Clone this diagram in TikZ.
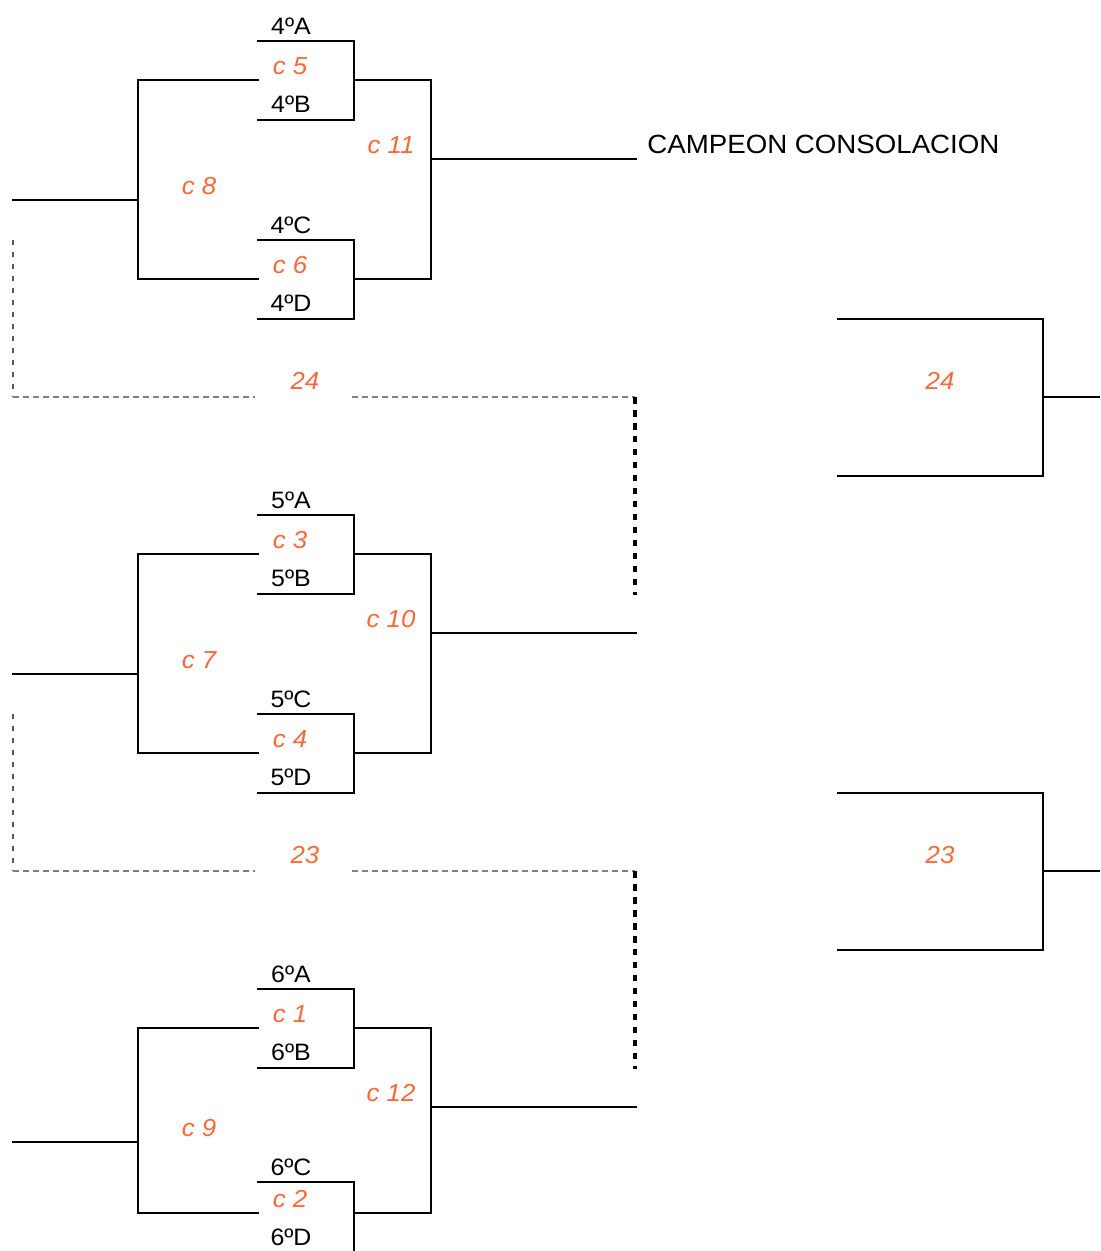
\documentclass[tikz,border=0pt]{standalone}
\usepackage{fontspec}
\setmainfont[FakeStretch=1.05]{Liberation Sans}
\definecolor{matchorange}{RGB}{255,102,51}

% one block of the consolation draw: #1 name, #2 y of first pair, #3 y of second pair,
% #4 place, #5 #6 first round matches, #7 #8 second round matches, #9 arm gap of second pair
\newcommand{\drawblock}[9]{%
  \coordinate (#1-a0) at (257,#2);
  \coordinate (#1-a1) at (354,#2);
  \coordinate (#1-b0) at (257,{#2+79});
  \coordinate (#1-b1) at (354,{#2+79});
  \coordinate (#1-c0) at (257,#3);
  \coordinate (#1-c1) at (354,#3);
  \coordinate (#1-d0) at (257,{#3+#9+40});
  \coordinate (#1-d1) at (354,{#3+#9+40});
  \coordinate (#1-u0) at (138,{#2+39});
  \coordinate (#1-u1) at (259,{#2+39});
  \coordinate (#1-l0) at (138,{#3+#9});
  \coordinate (#1-l1) at (259,{#3+#9});
  \coordinate (#1-s0) at (12,{#3-40});
  \coordinate (#1-s1) at (138,{#3-40});
  \coordinate (#1-r0) at (354,{#2+39});
  \coordinate (#1-r1) at (431,{#2+39});
  \coordinate (#1-q0) at (354,{#3+#9});
  \coordinate (#1-q1) at (431,{#3+#9});
  \coordinate (#1-o0) at (431,{#2+118});
  \coordinate (#1-o1) at (637,{#2+118});
  \draw[bline] (#1-a0) -- (#1-a1) -- (#1-b1) -- (#1-b0);
  \draw[bline] (#1-c0) -- (#1-c1) -- (#1-d1) -- (#1-d0);
  \draw[bline] (#1-u1) -- (#1-u0) -- (#1-l0) -- (#1-l1);
  \draw[bline] (#1-s0) -- (#1-s1);
  \draw[bline] (#1-r0) -- (#1-r1) -- (#1-q1) -- (#1-q0);
  \draw[bline] (#1-o0) -- (#1-o1);
  \node[team] (#1-ta) at (291,{#2-15}) {#4ºA};
  \node[team] (#1-tb) at (291,{#2+63}) {#4ºB};
  \node[team] (#1-tc) at (291,{#3-15}) {#4ºC};
  \node[team] (#1-td) at (291,{#3+#9+24}) {#4ºD};
  \node[match] (#1-m1) at (290,{#2+25}) {c #5};
  \node[match] (#1-m2) at (290,{#3+#9-14}) {c #6};
  \node[match] (#1-m3) at (199,{#3-54}) {c #7};
  \node[match] (#1-m4) at (391,{#2+104}) {c #8};
}

\begin{document}
\begin{tikzpicture}[
    x=0.02cm, y=-0.02cm,
    bline/.style={line width=1.1pt},
    team/.style={inner sep=0pt, font=\fontsize{13.5}{16}\selectfont},
    match/.style={inner sep=0pt, text=matchorange, font=\fontsize{14}{16}\selectfont\itshape},
    finaltext/.style={inner sep=0pt, font=\fontsize{15}{18}\selectfont},
    ldash/.style={line width=0.6pt, gray!70!black, dash pattern=on 0.1cm off 0.14cm},
    gdash/.style={line width=0.6pt, gray, dash pattern=on 0.12cm off 0.08cm},
    bdots/.style={line width=2pt, dash pattern=on 0.13cm off 0.13cm}
  ]
  \useasboundingbox (0,0) rectangle (1100,1251);
  \clip (0,0) rectangle (1100,1251);

  \drawblock{four}{41}{240}{4}{5}{6}{8}{11}{39}
  \drawblock{five}{515}{714}{5}{3}{4}{7}{10}{39}
  \drawblock{six}{989}{1182}{6}{1}{2}{9}{12}{31}

  \node[finaltext, anchor=west] (champ) at (647,144) {CAMPEON CONSOLACION};

  % places 24 and 23
  \foreach \n/\y in {24/240, 23/714}{
    \coordinate (v\n-0) at (13,\y);
    \coordinate (v\n-1) at (13,{\y+157});
    \coordinate (v\n-2) at (255,{\y+157});
    \coordinate (v\n-3) at (352,{\y+157});
    \coordinate (v\n-4) at (635,{\y+157});
    \coordinate (v\n-5) at (635,{\y+355});
    \node[match] (g\n) at (305,{\y+141}) {\n};
    \draw[ldash] (v\n-0) -- (v\n-1);
    \draw[gdash] (v\n-1) -- (v\n-2);
    \draw[gdash] (v\n-3) -- (v\n-4);
    \draw[bdots] (v\n-4) -- (v\n-5);
    \coordinate (w\n-0) at (837,{\y+79});
    \coordinate (w\n-1) at (1043,{\y+79});
    \coordinate (w\n-2) at (1043,{\y+236});
    \coordinate (w\n-3) at (837,{\y+236});
    \coordinate (w\n-4) at (1043,{\y+157});
    \coordinate (w\n-5) at (1100,{\y+157});
    \draw[bline] (w\n-0) -- (w\n-1) -- (w\n-2) -- (w\n-3);
    \draw[bline] (w\n-4) -- (w\n-5);
    \node[match] (h\n) at (940,{\y+141}) {\n};
  }
\end{tikzpicture}
\end{document}
